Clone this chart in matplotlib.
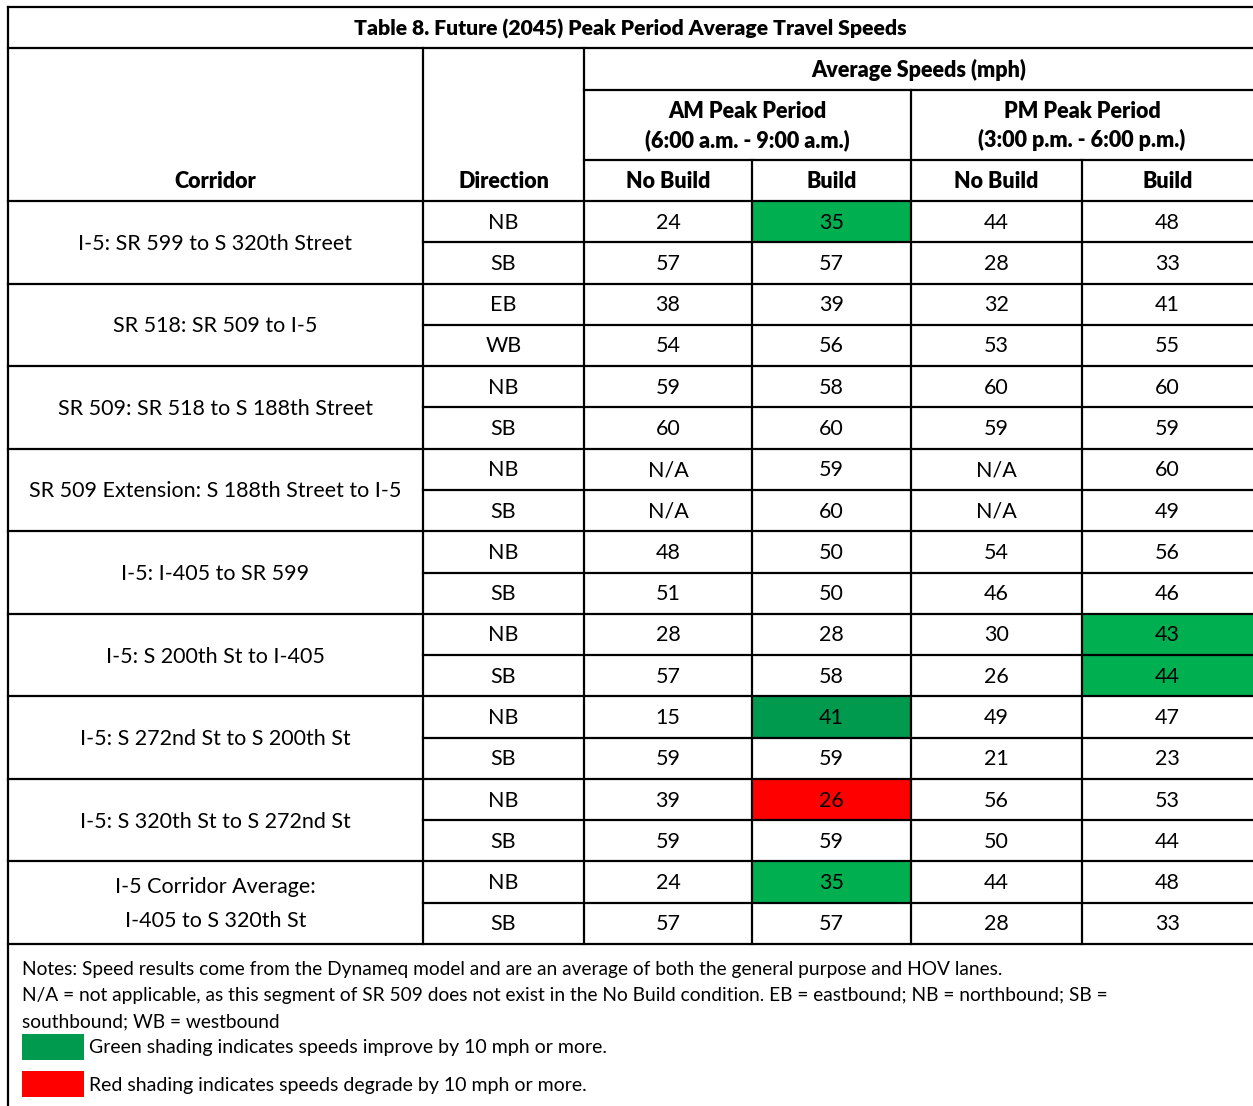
import matplotlib.pyplot as plt
import matplotlib.patches as mpatches

# Table content
title = "Table 8. Future (2045) Peak Period Average Travel Speeds"
corridors = [
    "I-5: SR 599 to S 320th Street",
    "SR 518: SR 509 to I-5",
    "SR 509: SR 518 to S 188th Street",
    "SR 509 Extension: S 188th Street to I-5",
    "I-5: I-405 to SR 599",
    "I-5: S 200th St to I-405",
    "I-5: S 272nd St to S 200th St",
    "I-5: S 320th St to S 272nd St",
    "I-5 Corridor Average:\nI-405 to S 320th St",
]
directions = [
    "NB", "SB", "EB", "WB", "NB", "SB", "NB", "SB", "NB",
    "SB", "NB", "SB", "NB", "SB", "NB", "SB", "NB", "SB",
]
am_no_build = ["24", "57", "38", "54", "59", "60", "N/A", "N/A", "48",
               "51", "28", "57", "15", "59", "39", "59", "24", "57"]
am_build = ["35", "57", "39", "56", "58", "60", "59", "60", "50",
            "50", "28", "58", "41", "59", "26", "59", "35", "57"]
pm_no_build = ["44", "28", "32", "53", "60", "59", "N/A", "N/A", "54",
               "46", "30", "26", "49", "21", "56", "50", "44", "28"]
pm_build = ["48", "33", "41", "55", "60", "59", "60", "49", "56",
            "46", "43", "44", "47", "23", "53", "44", "48", "33"]

# shaded cells: (row, column index among the 4 speed columns, colour)
GREEN = "#00B050"
DARK_GREEN = "#009A4E"
RED = "#FF0000"
shaded = [(0, 1, GREEN), (10, 3, GREEN), (11, 3, GREEN),
          (12, 1, DARK_GREEN), (14, 1, RED), (16, 1, GREEN)]

notes = [
    "Notes: Speed results come from the Dynameq model and are an average of both the general purpose and HOV lanes.",
    "N/A = not applicable, as this segment of SR 509 does not exist in the No Build condition. EB = eastbound; NB = northbound; SB =",
    "southbound; WB = westbound",
]
legend_text = ["Green shading indicates speeds improve by 10 mph or more.",
               "Red shading indicates speeds degrade by 10 mph or more."]
legend_colors = [DARK_GREEN, RED]

plt.rcParams['font.family'] = ['Lato', 'DejaVu Sans']
W, H = 1253, 1106
fig = plt.figure(figsize=(W / 100, H / 100), dpi=100)
ax = fig.add_axes([0, 0, 1, 1])
ax.set_xlim(0, W)
ax.set_ylim(H, 0)
ax.axis('off')

LW = 1.6
FS = 15.5
BW = 'heavy'
x_edges = [8, 423, 584, 752, 911, 1082, 1253]
y_top, y_title, y_avg, y_period, y_head = 7, 48, 90, 160, 201
row_h = (944 - y_head) / len(directions)
y_rows = [y_head + i * row_h for i in range(len(directions) + 1)]

def line(x0, x1, y0, y1):
    ax.plot([x0, x1], [y0, y1], color='black', lw=LW, solid_capstyle='projecting')

# shaded cells
for r, c, col in shaded:
    ax.add_patch(mpatches.Rectangle((x_edges[2 + c], y_rows[r]),
                                    x_edges[3 + c] - x_edges[2 + c], row_h,
                                    facecolor=col, edgecolor='none', zorder=0))

# horizontal lines
line(x_edges[0], W, y_top, y_top)
line(x_edges[0], W, y_title, y_title)
line(x_edges[2], W, y_avg, y_avg)
line(x_edges[2], W, y_period, y_period)
for i, y in enumerate(y_rows):
    x0 = x_edges[0] if i % 2 == 0 else x_edges[1]
    line(x0, W, y, y)

# vertical lines
line(x_edges[0], x_edges[0], y_top, H)
line(x_edges[1], x_edges[1], y_title, y_rows[-1])
line(x_edges[2], x_edges[2], y_title, y_rows[-1])
line(x_edges[4], x_edges[4], y_avg, y_rows[-1])
for xe in (x_edges[3], x_edges[5]):
    line(xe, xe, y_period, y_rows[-1])

def cx(a, b):
    return (x_edges[a] + x_edges[b]) / 2

# header text
ax.text(cx(0, 6), (y_top + y_title) / 2 + 1, title, ha='center', va='center',
        fontsize=FS - 0.3, fontweight=BW)
ax.text(cx(2, 6), (y_title + y_avg) / 2 + 1, "Average Speeds (mph)", ha='center',
        va='center', fontsize=FS, fontweight=BW)
ax.text(cx(2, 4), (y_avg + y_period) / 2 + 1, "AM Peak Period\n(6:00 a.m. - 9:00 a.m.)",
        ha='center', va='center', fontsize=FS, fontweight=BW, linespacing=1.42)
ax.text(cx(4, 6), (y_avg + y_period) / 2 + 1, "PM Peak Period\n(3:00 p.m. - 6:00 p.m.)",
        ha='center', va='center', fontsize=FS, fontweight=BW, linespacing=1.42)
y_sub = (y_period + y_head) / 2 + 1
ax.text(cx(0, 1), y_sub, "Corridor", ha='center', va='center', fontsize=FS, fontweight=BW)
ax.text(cx(1, 2), y_sub, "Direction", ha='center', va='center', fontsize=FS, fontweight=BW)
for k, lab in enumerate(["No Build", "Build", "No Build", "Build"]):
    ax.text(cx(2 + k, 3 + k), y_sub, lab, ha='center', va='center',
            fontsize=FS, fontweight=BW)

# body text
for i, name in enumerate(corridors):
    ax.text(cx(0, 1), y_rows[2 * i + 1] + 1.5, name, ha='center', va='center',
            fontsize=FS, linespacing=1.9)
columns = [directions, am_no_build, am_build, pm_no_build, pm_build]
for c, values in enumerate(columns):
    for r, v in enumerate(values):
        ax.text(cx(1 + c, 2 + c), y_rows[r] + row_h / 2 + 1, v, ha='center',
                va='center', fontsize=FS)

# notes
for j, t in enumerate(notes):
    ax.text(22, 970 + 26 * j, t, ha='left', va='center', fontsize=13.8)
for j, (t, col) in enumerate(zip(legend_text, legend_colors)):
    yc = 1047 + 37 * j
    ax.add_patch(mpatches.Rectangle((22, yc - 13), 62, 26, facecolor=col, edgecolor='none'))
    ax.text(89, yc + 1, t, ha='left', va='center', fontsize=14)

fig.savefig('out.png', dpi=100)
